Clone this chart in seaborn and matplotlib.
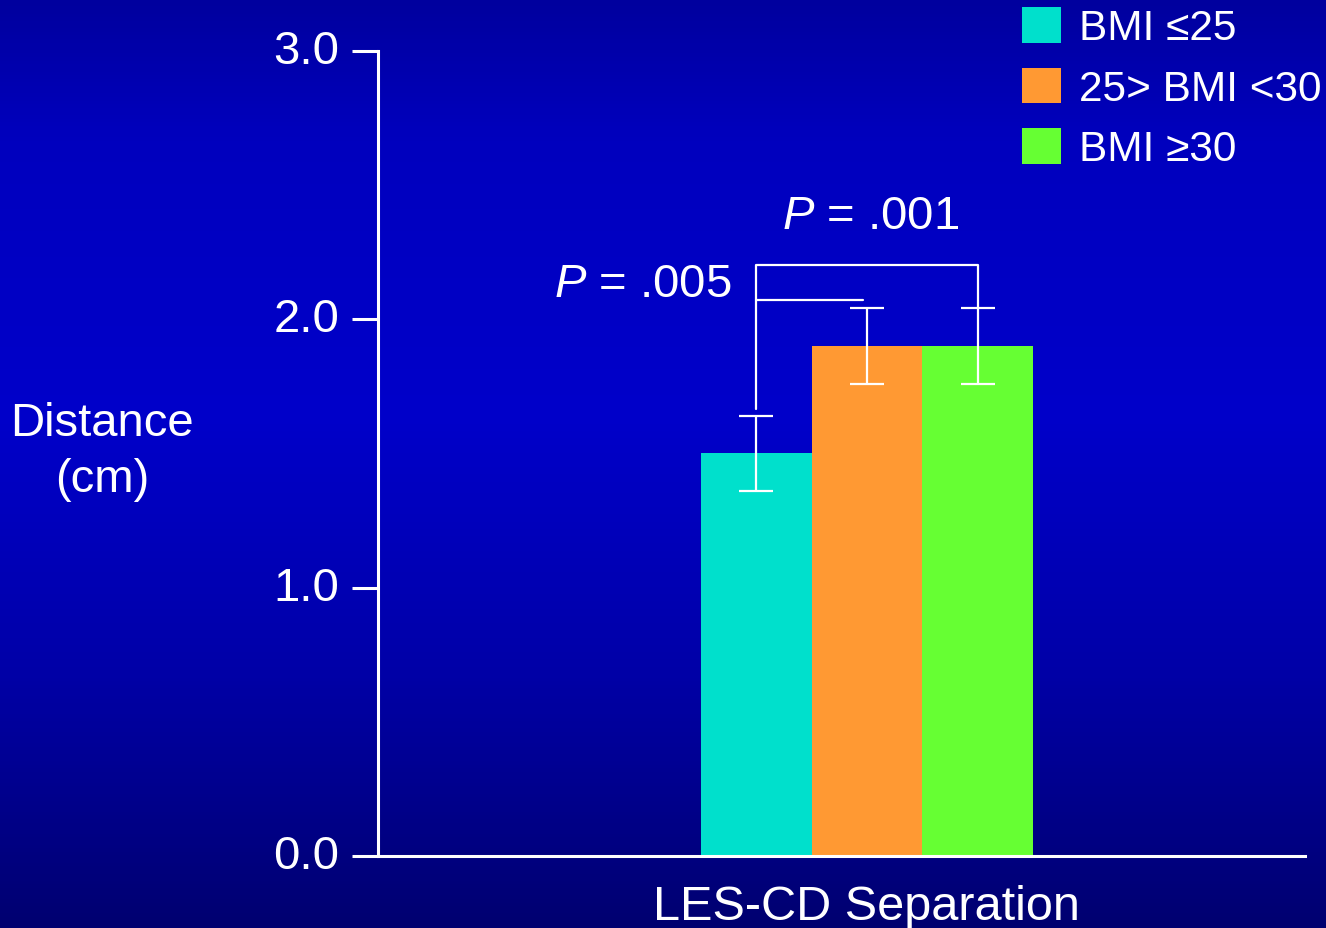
import numpy as np
import pandas as pd
import matplotlib
matplotlib.use("Agg")
import matplotlib.pyplot as plt
import matplotlib.transforms as mtransforms
import seaborn as sns
from matplotlib.colors import LinearSegmentedColormap

# ============================================================================
# DATA
# ============================================================================

category = ["LES-CD Separation"]
groups = ["BMI ≤25", "25> BMI <30", "BMI ≥30"]
means = [1.50, 1.90, 1.90]
sems = [0.14, 0.14, 0.14]
colors = ["#00E0CC", "#FF9933", "#66FF33"]
y_ticks = [0.0, 1.0, 2.0, 3.0]
p_low = ".005"
p_high = ".001"
bracket_low = 2.07
bracket_high = 2.20

# ============================================================================
# STYLE
# ============================================================================

sns.set_theme(style="white")
plt.rcParams["font.family"] = ["Liberation Sans", "DejaVu Sans"]
plt.rcParams["mathtext.fontset"] = "custom"
plt.rcParams["mathtext.rm"] = "Liberation Sans"
plt.rcParams["mathtext.it"] = "Liberation Sans:italic"

df = pd.DataFrame({
    "measure": category * len(groups),
    "group": groups,
    "mean": means,
})

fig = plt.figure(figsize=(13.26, 9.29), dpi=100)

# gradient background
bg = fig.add_axes([0, 0, 1, 1], zorder=-1)
bg_cmap = LinearSegmentedColormap.from_list(
    "bg",
    [(0.0, "#00009E"), (0.15, "#0000BE"), (0.45, "#0000CA"),
     (0.72, "#0000A8"), (1.0, "#000070")]
)
bg.imshow(np.linspace(0, 1, 256)[:, None], aspect="auto", cmap=bg_cmap,
          extent=[0, 1, 0, 1])
bg.axis("off")

ax = fig.add_axes([0.2851, 0.0775, 0.6991, 0.8669])
ax.set_facecolor("none")

sns.barplot(
    data=df, x="measure", y="mean", hue="group",
    palette=colors, saturation=1, width=0.8,
    errorbar=None, linewidth=0, ax=ax
)

handles, labels = ax.get_legend_handles_labels()
ax.get_legend().remove()

bars = sorted([p for p in ax.patches if p.get_height() > 0], key=lambda p: p.get_x())
centers = [p.get_x() + p.get_width() / 2 for p in bars]

ax.errorbar(centers, means, yerr=sems, fmt="none", ecolor="white",
            elinewidth=1.6, capsize=12.5, capthick=1.6)

# significance brackets
ax.plot([centers[0], centers[0], centers[1] - 0.01],
        [means[0] + sems[0] + 0.025, bracket_low, bracket_low],
        color="white", lw=1.6)
ax.plot([centers[0], centers[0], centers[2], centers[2]],
        [bracket_low, bracket_high, bracket_high, means[2] + sems[2]],
        color="white", lw=1.6)

ax.text(-0.54, 2.085, r"$\mathit{P}$ = " + p_low, color="white",
        fontsize=34, ha="center", va="baseline")
ax.text(0.008, 2.34, r"$\mathit{P}$ = " + p_high, color="white",
        fontsize=34, ha="center", va="baseline")

ax.set_xlim(-1.178, 1.056)
ax.set_ylim(0, 3)
ax.set_yticks(y_ticks)
ax.set_yticklabels([f"{v:.1f}" for v in y_ticks])
ax.set_xlabel("")
ax.set_ylabel("")

for s in ["top", "right"]:
    ax.spines[s].set_visible(False)
for s in ["left", "bottom"]:
    ax.spines[s].set_color("white")
    ax.spines[s].set_linewidth(2.2)

ax.tick_params(axis="y", colors="white", labelsize=34, length=19,
               width=2.2, pad=9, left=True, direction="out")
ax.tick_params(axis="x", colors="white", labelsize=35, length=0, pad=20)

# nudge y tick labels up a little
shift = mtransforms.ScaledTranslation(0, 5 / 100, fig.dpi_scale_trans)
for lab in ax.get_yticklabels():
    lab.set_transform(lab.get_transform() + shift)

fig.text(102 / 1326, 1 - 452 / 929, "Distance\n(cm)", color="white",
         fontsize=34, ha="center", va="center", linespacing=1.35)

fig.legend(
    handles, labels,
    loc="upper left", bbox_to_anchor=(1022 / 1326, 1 - 8 / 929),
    frameon=False, fontsize=30.5, labelcolor="white",
    handlelength=0.92, handleheight=0.92, handletextpad=0.42,
    labelspacing=0.45, borderpad=0, borderaxespad=0
)

fig.savefig("out.png", dpi=100)
